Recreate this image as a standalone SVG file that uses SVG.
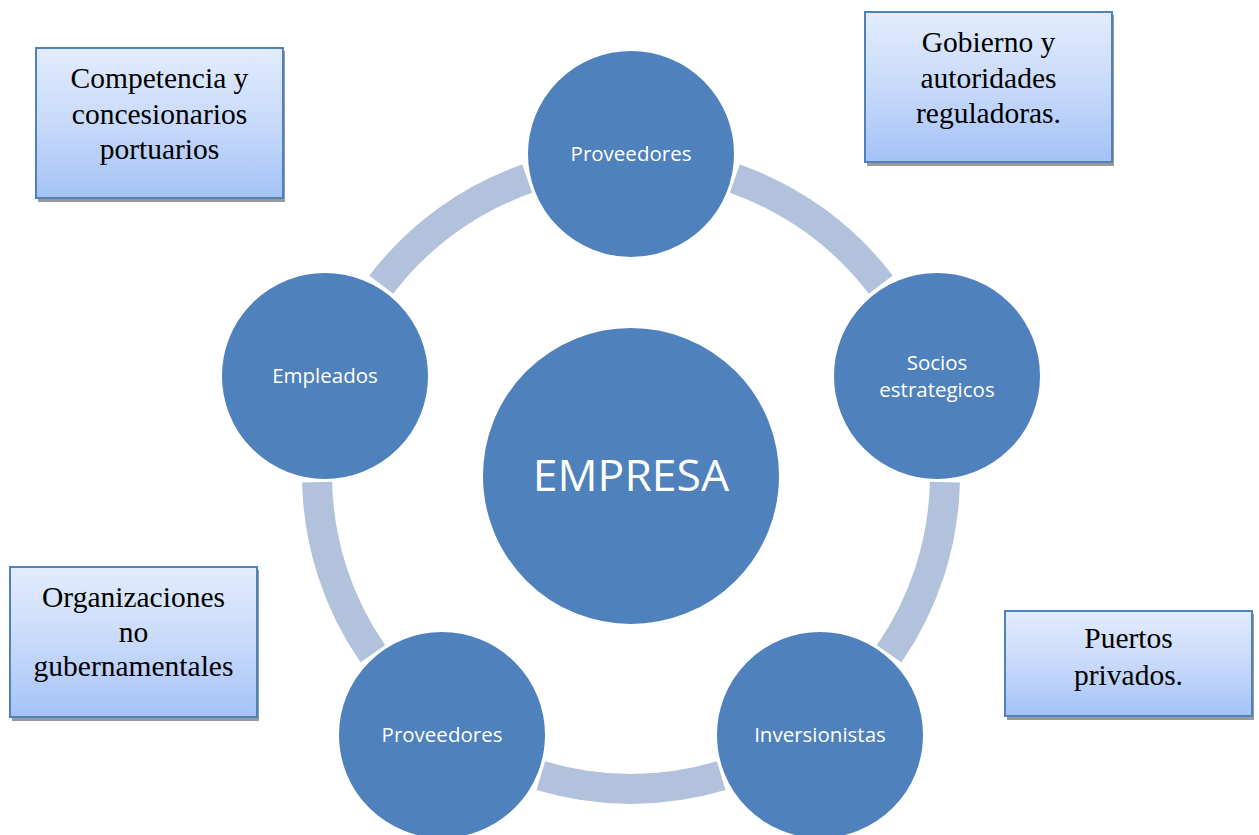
<svg xmlns="http://www.w3.org/2000/svg" width="1259" height="835" viewBox="0 0 1259 835">
<defs>
<linearGradient id="boxg" x1="0" y1="0" x2="0" y2="1">
<stop offset="0" stop-color="#e2ecfc"/>
<stop offset="0.5" stop-color="#c8dafa"/>
<stop offset="1" stop-color="#a4c2f7"/>
</linearGradient>
</defs>
<style>
.arc{fill:none;stroke:#b2c2dc;stroke-width:30;stroke-linecap:butt}
.node{fill:#4f81bd;stroke:#ffffff;stroke-width:2}
.nl{font-family:"Open Sans","Liberation Sans",sans-serif;font-size:20.5px;fill:#ffffff;text-anchor:middle}
.big{font-family:"Open Sans","Liberation Sans",sans-serif;font-size:44.5px;fill:#ffffff;text-anchor:middle}
.box{fill:url(#boxg);stroke:#4f81bd;stroke-width:2}
.shadow{fill:#9a9a9a}
.bt{font-family:"Liberation Serif","DejaVu Serif",serif;font-size:29.5px;fill:#000000;text-anchor:middle}
</style>
<rect width="1259" height="835" fill="#ffffff"/>
<g id="connectors">
<path class="arc" d="M734.8,178.6 A314,314 0 0 1 880.8,284.7"/>
<path class="arc" d="M944.9,482.1 A314,314 0 0 1 889.1,653.8"/>
<path class="arc" d="M721.2,775.7 A314,314 0 0 1 540.8,775.7"/>
<path class="arc" d="M372.9,653.8 A314,314 0 0 1 317.1,482.1"/>
<path class="arc" d="M381.2,284.7 A314,314 0 0 1 527.2,178.6"/>
</g>
<g id="node-empresa">
<circle class="node" cx="631" cy="476" r="149"/>
<text class="big" x="631" y="491">EMPRESA</text>
</g>
<g id="node-proveedores-top">
<circle class="node" cx="631" cy="154" r="104"/>
<text class="nl" x="631" y="161">Proveedores</text>
</g>
<g id="node-socios">
<circle class="node" cx="937" cy="376" r="104"/>
<text class="nl" x="937" y="370">Socios</text>
<text class="nl" x="937" y="397">estrategicos</text>
</g>
<g id="node-inversionistas">
<circle class="node" cx="820" cy="735" r="104"/>
<text class="nl" x="820" y="742">Inversionistas</text>
</g>
<g id="node-proveedores-bottom">
<circle class="node" cx="442" cy="735" r="104"/>
<text class="nl" x="442" y="742">Proveedores</text>
</g>
<g id="node-empleados">
<circle class="node" cx="325" cy="376" r="104"/>
<text class="nl" x="325" y="383">Empleados</text>
</g>
<g id="box-competencia">
<rect class="shadow" x="38" y="51" width="247" height="151"/>
<rect class="box" x="36" y="48" width="247" height="150"/>
<text class="bt" x="159.5" y="88">Competencia y</text>
<text class="bt" x="159.5" y="124">concesionarios</text>
<text class="bt" x="159.5" y="159">portuarios</text>
</g>
<g id="box-gobierno">
<rect class="shadow" x="867" y="15" width="247" height="151"/>
<rect class="box" x="865" y="12" width="247" height="150"/>
<text class="bt" x="988.5" y="52">Gobierno y</text>
<text class="bt" x="988.5" y="88">autoridades</text>
<text class="bt" x="988.5" y="123">reguladoras.</text>
</g>
<g id="box-ong">
<rect class="shadow" x="12" y="570" width="247" height="151"/>
<rect class="box" x="10" y="567" width="247" height="150"/>
<text class="bt" x="133.5" y="607">Organizaciones</text>
<text class="bt" x="133.5" y="642">no</text>
<text class="bt" x="133.5" y="676">gubernamentales</text>
</g>
<g id="box-puertos">
<rect class="shadow" x="1007" y="614" width="247" height="106"/>
<rect class="box" x="1005" y="611" width="247" height="105"/>
<text class="bt" x="1128.5" y="648">Puertos</text>
<text class="bt" x="1128.5" y="685">privados.</text>
</g>
</svg>
